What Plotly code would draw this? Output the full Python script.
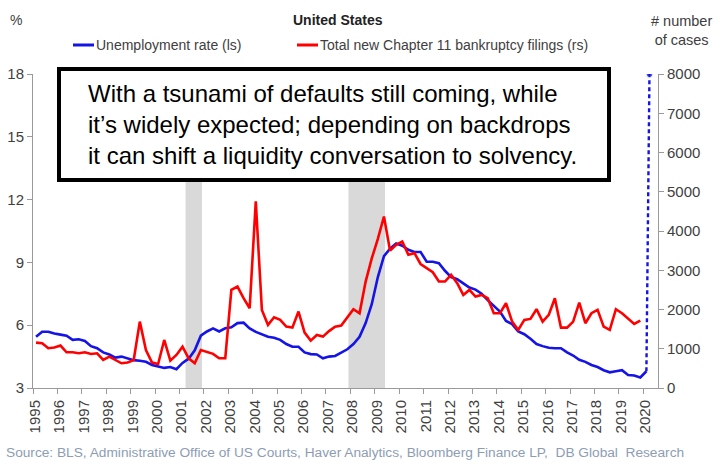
import plotly.graph_objects as go

# ---------------- data ----------------
years = list(range(1995, 2021))
year_labels = [str(y) for y in years]

# quarterly series, 1995Q1 .. 2019Q4 (bankruptcy), 1995Q1 .. 2020Q1 (unemployment)
unemployment = [
    5.45, 5.69, 5.69, 5.60, 5.55, 5.50, 5.30, 5.33, 5.25, 5.00,
    4.90, 4.70, 4.60, 4.45, 4.50, 4.42, 4.33, 4.30, 4.25, 4.10,
    4.03, 3.96, 4.00, 3.90, 4.20, 4.40, 4.80, 5.50, 5.70, 5.85,
    5.70, 5.85, 5.90, 6.10, 6.12, 5.85, 5.68, 5.58, 5.45, 5.40,
    5.30, 5.10, 4.97, 4.97, 4.70, 4.62, 4.60, 4.42, 4.50, 4.53,
    4.68, 4.85, 5.10, 5.45, 6.10, 7.00, 8.30, 9.30, 9.65, 9.90,
    9.80, 9.60, 9.50, 9.50, 9.03, 9.03, 8.96, 8.60, 8.30, 8.20,
    8.00, 7.80, 7.70, 7.50, 7.20, 6.90, 6.65, 6.20, 6.05, 5.70,
    5.57, 5.35, 5.10, 5.00, 4.92, 4.90, 4.90, 4.70, 4.55, 4.35,
    4.25, 4.10, 4.00, 3.85, 3.75, 3.80, 3.85, 3.62, 3.60, 3.50,
    3.80,
]
bankruptcy_filings = [
    1156, 1140, 1013, 1030, 1080, 910, 910, 885, 910, 867,
    885, 714, 798, 714, 630, 650, 714, 1691, 969, 646,
    612, 1224, 697, 842, 1054, 757, 630, 969, 926, 870,
    757, 757, 2500, 2585, 2288, 2033, 4753, 1990, 1607, 1803,
    1735, 1564, 1539, 1947, 1411, 1207, 1352, 1309, 1450, 1564,
    1590, 1800, 2008, 1905, 2712, 3300, 3800, 4370, 3500, 3648,
    3732, 3393, 3436, 3160, 3050, 2950, 2712, 2712, 2883, 2670,
    2372, 2500, 2329, 2372, 2288, 1905, 1905, 2160, 1691, 1480,
    1735, 1760, 2008, 1691, 1862, 2288, 1539, 1539, 1691, 2177,
    1650, 1905, 1990, 1564, 1480, 2008, 1905, 1760, 1633, 1717,
]
# dashed projection of unemployment (ls)
projection_x = [2020.125, 2020.25]
projection_y = [3.80, 18.0]

# NBER recessions
recession_start = [2001.25, 2007.92]
recession_end = [2001.92, 2009.42]

first_quarter = 1995.125
u_x = [first_quarter + 0.25 * i for i in range(len(unemployment))]
b_x = [first_quarter + 0.25 * i for i in range(len(bankruptcy_filings))]

FONT = "Liberation Sans, Arial, sans-serif"
TXT = "#404040"
AX = "#9a9a9a"
BLUE = "#1414e6"
RED = "#ff0000"

fig = go.Figure()

fig.add_trace(go.Scatter(x=b_x, y=bankruptcy_filings, yaxis="y2", mode="lines",
                         line=dict(color=RED, width=2.6), showlegend=False))
fig.add_trace(go.Scatter(x=u_x, y=unemployment, mode="lines",
                         line=dict(color=BLUE, width=2.6), showlegend=False))
fig.add_trace(go.Scatter(x=projection_x, y=projection_y, mode="lines+markers",
                         line=dict(color=BLUE, width=2.4, dash="4px,3px"),
                         marker=dict(color=BLUE, size=[0, 7]), showlegend=False))

shapes = []
for s, e in zip(recession_start, recession_end):
    shapes.append(dict(type="rect", xref="x", yref="paper", x0=s, x1=e, y0=0, y1=1,
                       fillcolor="#d9d9d9", line=dict(width=0), layer="below"))

# text box (paper coords; plot spans px 33..658 x, 74..388 y)
def px_x(p):
    return (p - 33) / 625.0

def px_y(p):
    return (388 - p) / 314.0

shapes.append(dict(type="rect", xref="paper", yref="paper",
                   x0=px_x(59), x1=px_x(609), y0=px_y(180), y1=px_y(69),
                   fillcolor="white", line=dict(color="black", width=4), layer="above"))

# legend samples
shapes.append(dict(type="line", xref="paper", yref="paper", x0=px_x(73), x1=px_x(94),
                   y0=px_y(45), y1=px_y(45), line=dict(color=BLUE, width=3)))
shapes.append(dict(type="line", xref="paper", yref="paper", x0=px_x(297), x1=px_x(318),
                   y0=px_y(45), y1=px_y(45), line=dict(color=RED, width=3)))

annotations = [
    dict(text="With a tsunami of defaults still coming, while<br>"
              "it\u2019s widely expected; depending on backdrops<br>"
              "it can shift a liquidity conversation to solvency.",
         xref="paper", yref="paper", x=px_x(86), y=px_y(125), xanchor="left", yanchor="middle",
         align="left", showarrow=False, font=dict(family=FONT, size=24, color="black")),
    dict(text="<b>United States</b>", xref="paper", yref="paper", x=px_x(338), y=px_y(20),
         xanchor="center", yanchor="middle", showarrow=False,
         font=dict(family=FONT, size=14, color="#222222")),
    dict(text="%", xref="paper", yref="paper", x=px_x(16), y=px_y(20),
         xanchor="center", yanchor="middle", showarrow=False,
         font=dict(family=FONT, size=14, color=TXT)),
    dict(text="# number<br>of cases", xref="paper", yref="paper", x=px_x(681), y=px_y(30),
         xanchor="center", yanchor="middle", showarrow=False,
         font=dict(family=FONT, size=14.5, color=TXT)),
    dict(text="Unemployment rate (ls)", xref="paper", yref="paper", x=px_x(94), y=px_y(45),
         xanchor="left", yanchor="middle", showarrow=False,
         font=dict(family=FONT, size=14, color=TXT)),
    dict(text="Total new Chapter 11 bankruptcy filings (rs)", xref="paper", yref="paper",
         x=px_x(318), y=px_y(45), xanchor="left", yanchor="middle", showarrow=False,
         font=dict(family=FONT, size=14, color=TXT)),
    dict(text="Source: BLS, Administrative Office of US Courts, Haver Analytics, Bloomberg Finance LP,  DB Global  Research",
         xref="paper", yref="paper", x=px_x(4), y=px_y(452), xanchor="left", yanchor="middle",
         showarrow=False, font=dict(family=FONT, size=13.7, color="#8d9db3")),
]

fig.update_layout(
    width=720, height=471,
    margin=dict(l=33, r=62, t=74, b=83, autoexpand=False),
    paper_bgcolor="white", plot_bgcolor="white",
    font=dict(family=FONT, color=TXT),
    showlegend=False,
    shapes=shapes,
    annotations=annotations,
    xaxis=dict(range=[1995, 2020.6], tickvals=years, ticktext=year_labels, tickangle=-90,
               ticks="outside", ticklen=5, tickcolor=AX, showline=True, linecolor=AX,
               linewidth=1, showgrid=False, zeroline=False, ticklabelshift=2,
               automargin=False, tickfont=dict(family=FONT, size=15, color=TXT)),
    yaxis=dict(range=[3, 18], dtick=3, tick0=3, ticks="outside", ticklen=5, tickcolor=AX,
               showline=True, linecolor=AX, linewidth=1, showgrid=False, zeroline=False,
               automargin=False, tickfont=dict(family=FONT, size=15, color=TXT)),
    yaxis2=dict(range=[0, 8000], dtick=1000, overlaying="y", side="right", ticks="outside",
                ticklen=5, tickcolor=AX, showline=True, linecolor=AX, linewidth=1,
                showgrid=False, zeroline=False, automargin=False,
                tickfont=dict(family=FONT, size=15, color=TXT)),
)

fig.write_html("out.html", config={"displayModeBar": False},
               post_script="document.body.style.margin='0';")
